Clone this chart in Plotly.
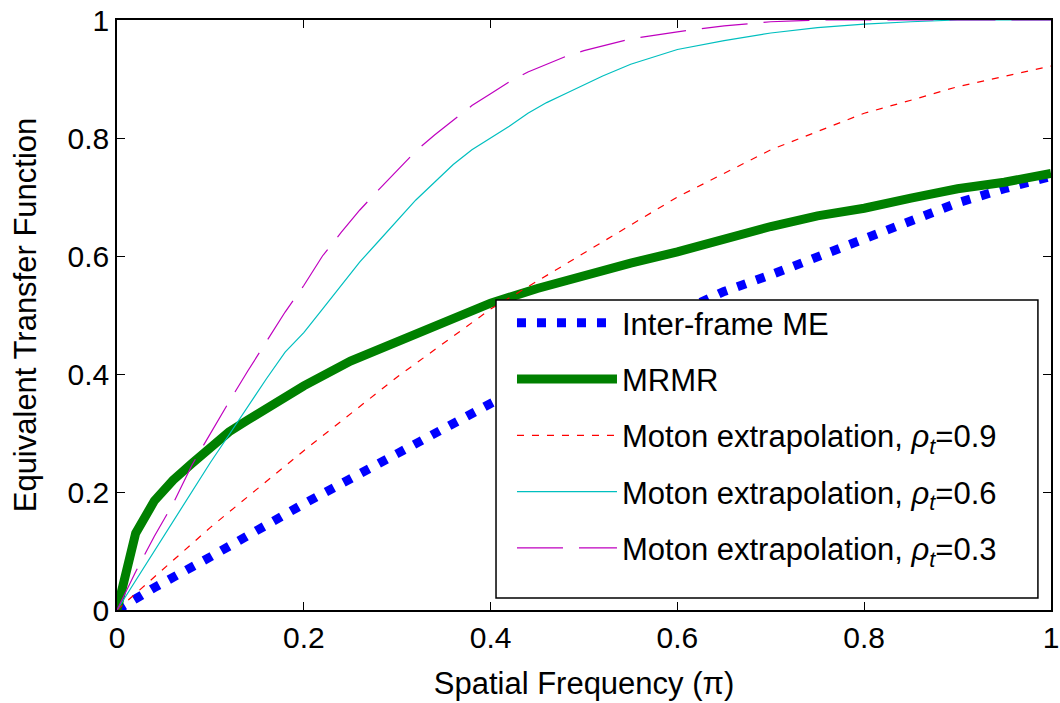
import plotly.graph_objects as go

# ---- data ----
x_me = [0, 0.02, 0.04, 0.1, 0.2, 0.3, 0.4, 0.5, 0.6, 0.65, 0.7, 0.75, 0.8, 0.85, 0.9, 0.95, 1.0]
y_me = [0, 0.02, 0.038, 0.09, 0.18, 0.265, 0.35, 0.43, 0.505, 0.54, 0.568, 0.598, 0.628, 0.66, 0.69, 0.714, 0.735]

x_mrmr = [0, 0.02, 0.04, 0.06, 0.08, 0.1, 0.12, 0.14, 0.16, 0.18, 0.2, 0.25, 0.3, 0.35, 0.4,
          0.45, 0.5, 0.55, 0.6, 0.65, 0.7, 0.75, 0.8, 0.85, 0.9, 0.95, 1.0]
y_mrmr = [0, 0.13, 0.185, 0.22, 0.248, 0.275, 0.302, 0.322, 0.342, 0.364, 0.38, 0.422, 0.456, 0.49, 0.52,
          0.545, 0.567, 0.588, 0.607, 0.63, 0.65, 0.668, 0.681, 0.698, 0.714, 0.725, 0.74]

x_r09 = [0, 0.1, 0.2, 0.3, 0.4, 0.5, 0.6, 0.7, 0.8, 0.85, 0.9, 1.0]
y_r09 = [0, 0.14, 0.27, 0.395, 0.51, 0.605, 0.70, 0.78, 0.842, 0.864, 0.887, 0.922]

x_r06 = [0, 0.02, 0.04, 0.06, 0.08, 0.1, 0.12, 0.14, 0.16, 0.18, 0.2, 0.22, 0.24, 0.26, 0.28, 0.3,
         0.32, 0.34, 0.36, 0.38, 0.4, 0.42, 0.44, 0.46, 0.48, 0.5, 0.52, 0.55, 0.6, 0.65, 0.7,
         0.75, 0.8, 0.85, 0.9, 1.0]
y_r06 = [0, 0.05, 0.1, 0.15, 0.2, 0.25, 0.297, 0.345, 0.392, 0.437, 0.47, 0.51, 0.55, 0.59, 0.625, 0.66,
         0.695, 0.725, 0.755, 0.78, 0.80, 0.82, 0.842, 0.86, 0.875, 0.89, 0.905, 0.925, 0.95, 0.965, 0.978,
         0.987, 0.993, 0.997, 1.0, 1.0]

x_r03 = [0, 0.02, 0.04, 0.06, 0.08, 0.1, 0.12, 0.14, 0.16, 0.18, 0.2, 0.22, 0.24, 0.26, 0.28, 0.3,
         0.32, 0.34, 0.36, 0.38, 0.4, 0.42, 0.44, 0.46, 0.48, 0.5, 0.55, 0.6, 0.65, 0.7, 0.75, 1.0]
y_r03 = [0, 0.065, 0.125, 0.18, 0.245, 0.3, 0.353, 0.405, 0.455, 0.505, 0.55, 0.6, 0.64, 0.678, 0.712, 0.745,
         0.778, 0.805, 0.83, 0.855, 0.875, 0.895, 0.912, 0.925, 0.938, 0.948, 0.968, 0.98, 0.99, 0.997, 1.0, 1.0]

tick_vals = [0, 0.2, 0.4, 0.6, 0.8, 1]
tick_text = ["0", "0.2", "0.4", "0.6", "0.8", "1"]

fig = go.Figure()
fig.add_trace(go.Scatter(x=x_me, y=y_me, mode="lines", name="Inter-frame ME", legendgroup="a",
                         line=dict(color="#0000ff", width=9, dash="9px,11px")))
fig.add_trace(go.Scatter(x=x_mrmr, y=y_mrmr, mode="lines", name="MRMR", legendgroup="b",
                         line=dict(color="#008000", width=9)))
fig.add_trace(go.Scatter(x=x_r09, y=y_r09, mode="lines", legendgroup="c",
                         name="Moton extrapolation, <i>ρ<sub>t</sub></i>=0.9",
                         line=dict(color="#ff0000", width=1.2, dash="7px,8px")))
fig.add_trace(go.Scatter(x=x_r06, y=y_r06, mode="lines", legendgroup="d",
                         name="Moton extrapolation, <i>ρ<sub>t</sub></i>=0.6",
                         line=dict(color="#00bfbf", width=1.2)))
fig.add_trace(go.Scatter(x=x_r03, y=y_r03, mode="lines", legendgroup="e",
                         name="Moton extrapolation, <i>ρ<sub>t</sub></i>=0.3",
                         line=dict(color="#bf00bf", width=1.2, dash="46px,16px")))

axis_common = dict(range=[0, 1], tickvals=tick_vals, ticktext=tick_text, automargin=False,
                   showgrid=False, zeroline=False, showline=True, linecolor="black",
                   linewidth=1.5, mirror="ticks", ticks="inside", ticklen=8,
                   tickcolor="black", tickfont=dict(size=30, color="black"))

fig.update_layout(
    width=1060, height=703,
    margin=dict(l=117, r=9, t=20, b=93, autoexpand=False),
    paper_bgcolor="white", plot_bgcolor="white",
    font=dict(family="Liberation Sans, Arial, sans-serif", color="black", size=31),
    xaxis=dict(**axis_common, title=dict(text="Spatial Frequency (π)", font=dict(size=31), standoff=20)),
    yaxis=dict(**axis_common, title=dict(text="Equivalent Transfer Function", font=dict(size=31), standoff=22)),
    legend=dict(x=0.4229, y=0.532, xanchor="left", yanchor="top",
                borderwidth=0, bgcolor="rgba(255,255,255,0)",
                font=dict(size=31, color="black"), itemwidth=100,
                tracegroupgap=13),
    showlegend=True,
    shapes=[dict(type="rect", xref="paper", yref="paper",
                 x0=0.4058, x1=0.986, y0=0.0203, y1=0.5254,
                 line=dict(color="black", width=1.5), fillcolor="white", layer="above")],
)

fig.write_html("out.html")
